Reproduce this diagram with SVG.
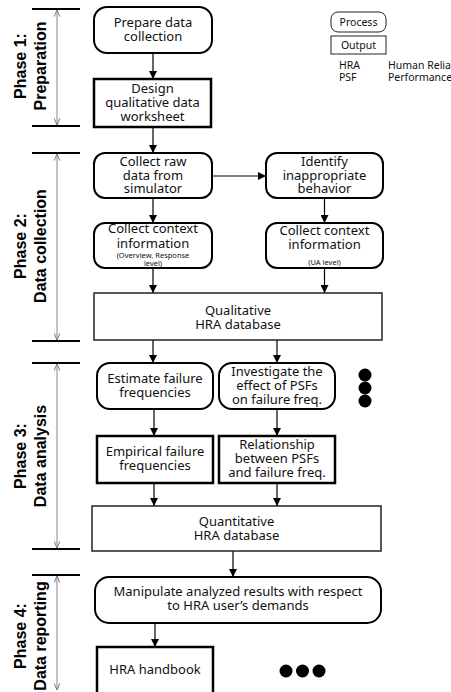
<svg xmlns="http://www.w3.org/2000/svg" width="451" height="692" viewBox="0 0 451 692">
<defs>
<style>
.p{fill:#fff;stroke:#000;stroke-width:2}
.o{fill:#fff;stroke:#000;stroke-width:2.5}
.db{fill:#fff;stroke:#222;stroke-width:1.5}
.lg{fill:#fff;stroke:#222;stroke-width:1}
.t{font-family:"Noto Sans","Open Sans",sans-serif;font-size:13px;text-anchor:middle;fill:#111}
.s{font-size:7.5px}
.l{font-family:"Noto Sans","Open Sans",sans-serif;font-size:10.5px;fill:#111}
.ph{font-family:"Liberation Sans",Arial,sans-serif;font-weight:bold;font-size:16px;text-anchor:middle;fill:#000}
.bar{stroke:#000;stroke-width:2}
.span{stroke:#888;stroke-width:1;marker-start:url(#oh);marker-end:url(#oh)}
.c{stroke:#000;stroke-width:1.2;fill:none;marker-end:url(#ah)}
.dot{fill:#000}
</style>
<marker id="ah" viewBox="0 0 10 10" refX="10" refY="5" markerWidth="8" markerHeight="8" markerUnits="userSpaceOnUse" orient="auto"><path d="M0,0 L10,5 L0,10 z" fill="#000"/></marker>
<marker id="oh" viewBox="0 0 10 10" refX="9.5" refY="5" markerWidth="7" markerHeight="7" markerUnits="userSpaceOnUse" orient="auto-start-reverse"><path d="M0,1 L9.5,5 L0,9" fill="none" stroke="#777" stroke-width="1.4"/></marker>
</defs>
<rect width="451" height="692" fill="#fff"/>

<g id="phases">
<line class="bar" x1="32" y1="9" x2="80" y2="9"/>
<line class="bar" x1="32" y1="126" x2="80" y2="126"/>
<line class="span" x1="57" y1="10" x2="57" y2="125"/>
<text class="ph" transform="translate(26,66) rotate(-90)">Phase 1:</text>
<text class="ph" transform="translate(46,66) rotate(-90)">Preparation</text>

<line class="bar" x1="32" y1="153" x2="80" y2="153"/>
<line class="bar" x1="32" y1="341" x2="80" y2="341"/>
<line class="span" x1="57" y1="154" x2="57" y2="340"/>
<text class="ph" transform="translate(26,246) rotate(-90)">Phase 2:</text>
<text class="ph" transform="translate(46,246) rotate(-90)">Data collection</text>

<line class="bar" x1="32" y1="363" x2="80" y2="363"/>
<line class="bar" x1="32" y1="549" x2="80" y2="549"/>
<line class="span" x1="57" y1="364" x2="57" y2="548"/>
<text class="ph" transform="translate(26,456) rotate(-90)">Phase 3:</text>
<text class="ph" transform="translate(46,456) rotate(-90)">Data analysis</text>

<line class="bar" x1="32" y1="575" x2="80" y2="575"/>
<line class="span" x1="57" y1="576" x2="57" y2="690"/>
<text class="ph" transform="translate(26,636) rotate(-90)">Phase 4:</text>
<text class="ph" transform="translate(46,636) rotate(-90)">Data reporting</text>
</g>

<g id="legend">
<rect class="lg" x="331" y="12" width="55" height="20" rx="7"/>
<text class="l" x="358.5" y="25.5" text-anchor="middle">Process</text>
<rect class="lg" x="331" y="36" width="55" height="18"/>
<text class="l" x="358.5" y="49" text-anchor="middle">Output</text>
<text class="l" x="339" y="69">HRA</text>
<text class="l" x="339" y="81">PSF</text>
<text class="l" x="388" y="69">Human Relia</text>
<text class="l" x="388" y="81">Performance</text>
</g>

<g id="connectors">
<line class="c" x1="153" y1="53" x2="153" y2="79"/>
<line class="c" x1="153" y1="127" x2="153" y2="153"/>
<line class="c" x1="153" y1="198" x2="153" y2="223"/>
<line class="c" x1="153" y1="268" x2="153" y2="293"/>
<line class="c" x1="212" y1="176" x2="266" y2="176"/>
<line class="c" x1="324.5" y1="198" x2="324.5" y2="223"/>
<line class="c" x1="324.5" y1="268" x2="324.5" y2="293"/>
<line class="c" x1="153" y1="340" x2="153" y2="363"/>
<line class="c" x1="277" y1="340" x2="277" y2="363"/>
<line class="c" x1="154" y1="409" x2="154" y2="436"/>
<line class="c" x1="277" y1="409" x2="277" y2="436"/>
<line class="c" x1="154" y1="483" x2="154" y2="506"/>
<line class="c" x1="277" y1="483" x2="277" y2="506"/>
<line class="c" x1="233" y1="551" x2="233" y2="577"/>
<line class="c" x1="155" y1="623" x2="155" y2="647"/>
</g>

<g id="prepare">
<rect class="p" x="94" y="7" width="118" height="46" rx="13"/>
<text class="t" x="153" y="27">Prepare data</text>
<text class="t" x="153" y="41">collection</text>
</g>
<g id="design">
<rect class="o" x="94" y="79" width="117" height="48"/>
<text class="t" x="152.5" y="92.5">Design</text>
<text class="t" x="152.5" y="106.5">qualitative data</text>
<text class="t" x="152.5" y="120.5">worksheet</text>
</g>
<g id="collect-raw">
<rect class="p" x="94" y="153" width="118" height="45" rx="11"/>
<text class="t" x="153" y="165.5">Collect raw</text>
<text class="t" x="153" y="179.5">data from</text>
<text class="t" x="153" y="193">simulator</text>
</g>
<g id="identify">
<rect class="p" x="266" y="153" width="117" height="45" rx="11"/>
<text class="t" x="324.5" y="165.5">Identify</text>
<text class="t" x="324.5" y="179.5">inappropriate</text>
<text class="t" x="324.5" y="193">behavior</text>
</g>
<g id="context-left">
<rect class="p" x="94" y="223" width="118" height="45" rx="11"/>
<text class="t" x="153" y="233">Collect context</text>
<text class="t" x="153" y="247.5">information</text>
<text class="t s" x="153" y="257.5">(Overview, Response</text>
<text class="t s" x="153" y="265.5">level)</text>
</g>
<g id="context-right">
<rect class="p" x="266" y="223" width="117" height="45" rx="11"/>
<text class="t" x="324.5" y="234.5">Collect context</text>
<text class="t" x="324.5" y="249">information</text>
<text class="t s" x="324.5" y="264.5">(UA level)</text>
</g>
<g id="qualitative">
<rect class="db" x="94" y="293" width="288" height="47"/>
<text class="t" x="238" y="315">Qualitative</text>
<text class="t" x="238" y="329">HRA database</text>
</g>
<g id="estimate">
<rect class="p" x="97" y="363" width="116" height="46" rx="13"/>
<text class="t" x="155" y="382.5">Estimate failure</text>
<text class="t" x="155" y="396.5">frequencies</text>
</g>
<g id="investigate">
<rect class="p" x="219" y="363" width="116" height="46" rx="13"/>
<text class="t" x="277" y="375.5">Investigate the</text>
<text class="t" x="277" y="390">effect of PSFs</text>
<text class="t" x="277" y="404">on failure freq.</text>
</g>
<g id="dots-v">
<circle class="dot" cx="365" cy="375" r="6.5"/>
<circle class="dot" cx="365" cy="388" r="6.5"/>
<circle class="dot" cx="365" cy="401" r="6.5"/>
</g>
<g id="empirical">
<rect class="o" x="97" y="436" width="116" height="47"/>
<text class="t" x="155" y="456">Empirical failure</text>
<text class="t" x="155" y="469.5">frequencies</text>
</g>
<g id="relationship">
<rect class="o" x="219" y="436" width="116" height="47"/>
<text class="t" x="277" y="449">Relationship</text>
<text class="t" x="277" y="463">between PSFs</text>
<text class="t" x="277" y="476.5">and failure freq.</text>
</g>
<g id="quantitative">
<rect class="db" x="92" y="506" width="289" height="45"/>
<text class="t" x="236.5" y="526">Quantitative</text>
<text class="t" x="236.5" y="539.5">HRA database</text>
</g>
<g id="manipulate">
<rect class="p" x="95" y="577" width="286" height="46" rx="14"/>
<text class="t" x="238" y="596">Manipulate analyzed results with respect</text>
<text class="t" x="238" y="610">to HRA user’s demands</text>
</g>
<g id="handbook">
<rect class="o" x="97" y="647" width="116" height="60"/>
<text class="t" x="155" y="674">HRA handbook</text>
</g>
<g id="dots-h">
<circle class="dot" cx="286" cy="671" r="6.5"/>
<circle class="dot" cx="302.5" cy="671" r="6.5"/>
<circle class="dot" cx="319" cy="671" r="6.5"/>
</g>
</svg>
